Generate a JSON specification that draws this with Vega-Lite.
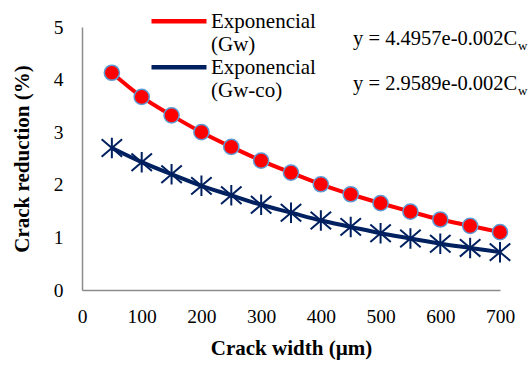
{
  "$schema": "https://vega.github.io/schema/vega-lite/v6.json",
  "autosize": "none",
  "width": 418,
  "height": 263,
  "padding": {"left": 82, "top": 27, "right": 32, "bottom": 75},
  "background": "white",
  "config": {
    "view": {"stroke": null},
    "font": "Liberation Serif",
    "axis": {"grid": false, "ticks": false, "domainColor": "#8c8c8c", "domainWidth": 1.5, "labelFont": "Liberation Serif", "labelFontSize": 19.5, "labelColor": "#000", "titleFont": "Liberation Serif", "titleFontSize": 21, "titleFontWeight": "bold", "titleColor": "#000", "labelFlush": false},
    "legend": {"labelFont": "Liberation Serif"}
  },
  "datasets": {
    "series": [
      {"w": 50, "r": 4.13, "series": "Gw"},
      {"w": 100, "r": 3.67, "series": "Gw"},
      {"w": 150, "r": 3.32, "series": "Gw"},
      {"w": 200, "r": 3.00, "series": "Gw"},
      {"w": 250, "r": 2.72, "series": "Gw"},
      {"w": 300, "r": 2.46, "series": "Gw"},
      {"w": 350, "r": 2.23, "series": "Gw"},
      {"w": 400, "r": 2.01, "series": "Gw"},
      {"w": 450, "r": 1.82, "series": "Gw"},
      {"w": 500, "r": 1.65, "series": "Gw"},
      {"w": 550, "r": 1.49, "series": "Gw"},
      {"w": 600, "r": 1.34, "series": "Gw"},
      {"w": 650, "r": 1.22, "series": "Gw"},
      {"w": 700, "r": 1.10, "series": "Gw"},
      {"w": 50, "r": 2.70, "series": "Gw-co"},
      {"w": 100, "r": 2.43, "series": "Gw-co"},
      {"w": 150, "r": 2.20, "series": "Gw-co"},
      {"w": 200, "r": 1.98, "series": "Gw-co"},
      {"w": 250, "r": 1.80, "series": "Gw-co"},
      {"w": 300, "r": 1.62, "series": "Gw-co"},
      {"w": 350, "r": 1.47, "series": "Gw-co"},
      {"w": 400, "r": 1.32, "series": "Gw-co"},
      {"w": 450, "r": 1.20, "series": "Gw-co"},
      {"w": 500, "r": 1.08, "series": "Gw-co"},
      {"w": 550, "r": 0.98, "series": "Gw-co"},
      {"w": 600, "r": 0.88, "series": "Gw-co"},
      {"w": 650, "r": 0.80, "series": "Gw-co"},
      {"w": 700, "r": 0.72, "series": "Gw-co"}
    ],
    "eq": [
      {"ex": 454, "ey": 4.66, "label": "y = 4.4957e-0.002C", "sy": 4.56},
      {"ex": 454, "ey": 3.80, "label": "y = 2.9589e-0.002C", "sy": 3.70}
    ]
  },
  "layer": [
    {
      "data": {"name": "series"},
      "mark": {"type": "line", "strokeWidth": 4, "interpolate": "monotone"},
      "encoding": {
        "x": {"field": "w", "type": "quantitative", "scale": {"domain": [0, 700], "nice": false}, "axis": {"title": "Crack width (µm)", "values": [0,100,200,300,400,500,600,700], "labelPadding": 17, "titlePadding": 12, "encode": {"labels": {"update": {"font": {"value": "Liberation Serif"}}}, "title": {"update": {"font": {"value": "Liberation Serif"}}}}}},
        "y": {"field": "r", "type": "quantitative", "scale": {"domain": [0, 5], "nice": false}, "axis": {"title": "Crack reduction (%)", "values": [0,1,2,3,4,5], "labelPadding": 19, "titlePadding": 21, "encode": {"labels": {"update": {"font": {"value": "Liberation Serif"}}}, "title": {"update": {"font": {"value": "Liberation Serif"}}}}}},
        "color": {"field": "series", "type": "nominal", "scale": {"domain": ["Gw", "Gw-co"], "range": ["#ff0000", "#002060"]},
          "legend": {"title": null, "orient": "none", "legendX": 81, "legendY": -15, "padding": 0, "symbolType": "M-2,-0.5L2,-0.5", "symbolStrokeWidth": 4.5, "symbolSize": 756, "symbolFillColor": "transparent", "labelFont": "Liberation Serif", "labelFontSize": 21, "labelLineHeight": 22, "labelColor": "#000", "labelBaseline": "alphabetic", "labelOffset": 16, "rowPadding": 2, "labelExpr": "datum.label == 'Gw' ? ['Exponencial','(Gw)'] : ['Exponencial','(Gw-co)']", "encode": {"labels": {"update": {"font": {"value": "Liberation Serif"}}}}}}
      }
    },
    {
      "data": {"name": "series"},
      "transform": [{"filter": "datum.series == 'Gw'"}],
      "mark": {"type": "point", "shape": "circle", "filled": true, "fill": "#ff0000", "stroke": "#5b9bd5", "strokeWidth": 1.5, "size": 230, "opacity": 1},
      "encoding": {"x": {"field": "w", "type": "quantitative"}, "y": {"field": "r", "type": "quantitative"}}
    },
    {
      "data": {"name": "series"},
      "transform": [{"filter": "datum.series == 'Gw-co'"}],
      "mark": {"type": "point", "shape": "M-1,-0.85L1,0.85M-1,0.85L1,-0.85M0,-1L0,1", "filled": false, "stroke": "#002060", "strokeWidth": 2, "size": 420, "opacity": 1},
      "encoding": {"x": {"field": "w", "type": "quantitative"}, "y": {"field": "r", "type": "quantitative"}}
    },
    {
      "data": {"name": "eq"},
      "mark": {"type": "text", "align": "left", "baseline": "alphabetic", "fontSize": 20.5, "font": "Liberation Serif", "fill": "#000"},
      "encoding": {"x": {"field": "ex", "type": "quantitative"}, "y": {"field": "ey", "type": "quantitative"}, "text": {"field": "label"}}
    },
    {
      "data": {"name": "eq"},
      "mark": {"type": "text", "align": "left", "baseline": "alphabetic", "fontSize": 13, "font": "Liberation Serif", "fill": "#000", "text": "w", "dx": 165},
      "encoding": {"x": {"field": "ex", "type": "quantitative"}, "y": {"field": "sy", "type": "quantitative"}}
    }
  ]
}
